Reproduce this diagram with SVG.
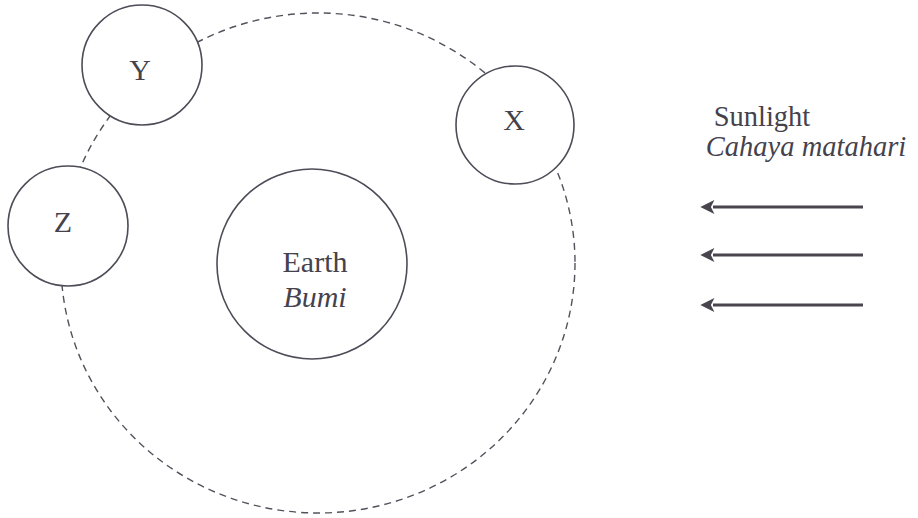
<svg xmlns="http://www.w3.org/2000/svg" width="918" height="518" viewBox="0 0 918 518">
<defs>
<style>
.orbit{fill:none;stroke:#55515c;stroke-width:1.4;stroke-dasharray:7 5}
.body{fill:#fff;stroke:#4f4b57;stroke-width:1.6}
.lbl{font-family:'Liberation Serif','Times New Roman','DejaVu Serif',serif;font-size:30px;fill:#45424c;text-anchor:middle}
.it{font-style:italic}
.sun{font-size:28.5px}
.ray{stroke:#48454f;stroke-width:3.2;fill:none}
</style>
<marker id="ah" viewBox="0 0 10 10" refX="1" refY="5" markerWidth="5" markerHeight="4.4" orient="auto" markerUnits="strokeWidth">
<path d="M0,0 L10,5 L0,10 L2.5,5 Z" fill="#48454f"/>
</marker>
</defs>
<rect width="918" height="518" fill="#fff"/>
<g id="connectors">
<ellipse id="orbit" class="orbit" cx="318" cy="263" rx="257" ry="250"/>
<line class="ray" x1="863" y1="207" x2="713" y2="207" marker-end="url(#ah)"/>
<line class="ray" x1="863" y1="255" x2="713" y2="255" marker-end="url(#ah)"/>
<line class="ray" x1="863" y1="305" x2="713" y2="305" marker-end="url(#ah)"/>
</g>
<g id="earth">
<circle class="body" cx="312" cy="264" r="95"/>
<text class="lbl" x="315" y="272">Earth</text>
<text class="lbl it" x="315" y="307">Bumi</text>
</g>
<g id="Y">
<circle class="body" cx="142" cy="65" r="60"/>
<text class="lbl" x="140" y="80">Y</text>
</g>
<g id="X">
<circle class="body" cx="515" cy="125" r="59"/>
<text class="lbl" x="514" y="130">X</text>
</g>
<g id="Z">
<circle class="body" cx="68" cy="226" r="60"/>
<text class="lbl" x="63" y="232">Z</text>
</g>
<g id="sunlight">
<text class="lbl sun" x="762" y="126">Sunlight</text>
<text class="lbl it sun" x="806" y="156">Cahaya matahari</text>
</g>
</svg>
